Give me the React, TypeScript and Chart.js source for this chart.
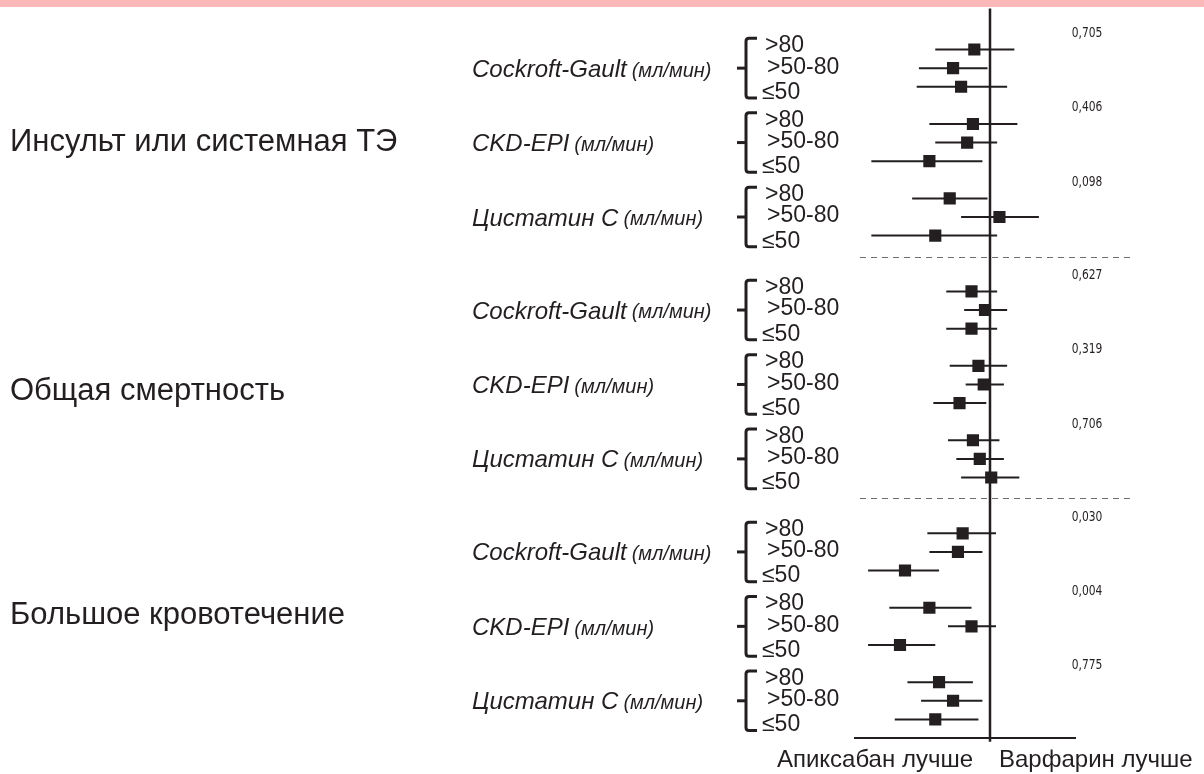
import React, { useEffect, useRef } from "react";
import { Chart, registerables } from "chart.js";

Chart.register(...registerables);

// ---- data ----
const outcomes = ["Инсульт или системная ТЭ", "Общая смертность", "Большое кровотечение"];
const methods = ["Cockroft-Gault", "CKD-EPI", "Цистатин С"];
const unitLabel = "(мл/мин)";
const subgroups = [">80", ">50-80", "≤50"];

// hazard ratios (apixaban vs warfarin), per method x subgroup
const strokeHR = [0.88, 0.74, 0.79, 0.87, 0.83, 0.61, 0.72, 1.08, 0.64];
const strokeLo = [0.64, 0.56, 0.55, 0.61, 0.64, 0.38, 0.53, 0.79, 0.38];
const strokeHi = [1.22, 0.98, 1.15, 1.25, 1.06, 0.94, 0.98, 1.49, 1.06];

const deathHR = [0.86, 0.96, 0.86, 0.91, 0.95, 0.78, 0.87, 0.92, 1.01];
const deathLo = [0.70, 0.81, 0.70, 0.72, 0.82, 0.63, 0.71, 0.76, 0.79];
const deathHi = [1.06, 1.15, 1.06, 1.15, 1.12, 0.97, 1.08, 1.12, 1.27];

const bleedHR = [0.80, 0.77, 0.50, 0.61, 0.86, 0.48, 0.66, 0.74, 0.64];
const bleedLo = [0.60, 0.61, 0.37, 0.44, 0.71, 0.37, 0.51, 0.57, 0.46];
const bleedHi = [1.05, 0.94, 0.66, 0.86, 1.05, 0.64, 0.87, 0.94, 0.91];

const pValues = ["0,705", "0,406", "0,098", "0,627", "0,319", "0,706", "0,030", "0,004", "0,775"];

const betterLeft = "Апиксабан лучше";
const betterRight = "Варфарин лучше";

// ---- layout (row units on the y axis) ----
const SECTION_STEP = 13;
const METHOD_STEP = 4;
const titleRows = [4.97, 18.35, 30.4];
const separatorRows = [11.15, 24.09];
const INK = "#231f20";
const SANS = '"Liberation Sans", Arial, Helvetica, sans-serif';

const hrAll = [strokeHR, deathHR, bleedHR];
const loAll = [strokeLo, deathLo, bleedLo];
const hiAll = [strokeHi, deathHi, bleedHi];

type Row = { y: number; hr: number; lo: number; hi: number };
const rows: Row[] = [];
outcomes.forEach((_, o) => {
  methods.forEach((__, m) => {
    subgroups.forEach((___, s) => {
      const k = m * 3 + s;
      rows.push({
        y: o * SECTION_STEP + m * METHOD_STEP + s,
        hr: hrAll[o][k],
        lo: loAll[o][k],
        hi: hiAll[o][k],
      });
    });
  });
});

const decorPlugin = {
  id: "decor",
  beforeDraw(chart: any) {
    const ctx = chart.ctx;
    ctx.save();
    ctx.fillStyle = "#fbb8b8";
    ctx.fillRect(0, 0, chart.width, 7);
    ctx.restore();
  },
  afterDraw(chart: any) {
    const ctx = chart.ctx;
    const xs = chart.scales.x;
    const ys = chart.scales.y;
    const Y = (v: number) => ys.getPixelForValue(v);
    const x1 = xs.getPixelForValue(1);

    ctx.save();
    // separators
    ctx.strokeStyle = "#6d6d6d";
    ctx.lineWidth = 1;
    ctx.setLineDash([6, 5]);
    separatorRows.forEach((r) => {
      const y = Math.round(Y(r)) + 0.5;
      ctx.beginPath();
      ctx.moveTo(860, y);
      ctx.lineTo(1133, y);
      ctx.stroke();
    });
    ctx.setLineDash([]);

    ctx.fillStyle = INK;
    ctx.strokeStyle = INK;
    ctx.textBaseline = "middle";

    outcomes.forEach((title, o) => {
      ctx.textAlign = "left";
      ctx.font = `31px ${SANS}`;
      ctx.fillText(title, 10, Y(titleRows[o]));

      methods.forEach((method, m) => {
        const start = o * SECTION_STEP + m * METHOD_STEP;
        // method label
        ctx.textAlign = "left";
        ctx.font = `italic 24px ${SANS}`;
        const my = Y(start + 1.1);
        ctx.fillText(method, 472, my);
        const w = ctx.measureText(method).width;
        ctx.font = `italic 20px ${SANS}`;
        ctx.fillText(unitLabel, 472 + w + 5, my + 1);

        // bracket
        const top = Y(start - 0.6);
        const bot = Y(start + 2.6);
        const mid = Y(start + 1);
        const bx = 746;
        ctx.lineWidth = 3;
        ctx.lineJoin = "round";
        ctx.beginPath();
        ctx.moveTo(757, top);
        ctx.lineTo(bx + 3, top);
        ctx.quadraticCurveTo(bx, top, bx, top + 3);
        ctx.lineTo(bx, bot - 3);
        ctx.quadraticCurveTo(bx, bot, bx + 3, bot);
        ctx.lineTo(757, bot);
        ctx.stroke();
        ctx.beginPath();
        ctx.moveTo(737, mid);
        ctx.lineTo(bx, mid);
        ctx.stroke();

        // subgroup labels
        ctx.font = `23px ${SANS}`;
        const sx = [765, 767, 762];
        const so = [-0.2, 0.95, 2.3];
        subgroups.forEach((sg, s) => {
          ctx.fillText(sg, sx[s], Y(start + so[s]));
        });

        // p-value (condensed)
        ctx.save();
        ctx.translate(1087, Y(start - 0.88));
        ctx.scale(0.85, 1);
        ctx.textAlign = "center";
        ctx.font = `14px "Liberation Sans Narrow", "DejaVu Sans Condensed", sans-serif`;
        ctx.fillText(pValues[o * 3 + m], 0, 0);
        ctx.restore();
      });
    });

    // bottom labels
    ctx.font = `24px ${SANS}`;
    ctx.textAlign = "right";
    ctx.fillText(betterLeft, x1 - 17, 760);
    ctx.textAlign = "left";
    ctx.fillText(betterRight, x1 + 9, 760);
    ctx.restore();
  },
};

export default function App() {
  const ref = useRef<HTMLCanvasElement | null>(null);

  useEffect(() => {
    if (!ref.current) return;
    const ciSets = rows.map((r) => ({
      type: "line" as const,
      data: [
        { x: r.lo, y: r.y },
        { x: r.hi, y: r.y },
      ],
      showLine: true,
      borderColor: INK,
      borderWidth: 2,
      pointRadius: 0,
      fill: false,
    }));
    const chart = new Chart(ref.current, {
      type: "scatter",
      data: {
        datasets: [
          {
            data: rows.map((r) => ({ x: r.hr, y: r.y })),
            pointStyle: "rect",
            pointRadius: 8.6,
            backgroundColor: INK,
            borderWidth: 0,
          } as any,
          {
            type: "line",
            data: [
              { x: 1, y: -2.2 },
              { x: 1, y: 37.2 },
            ],
            showLine: true,
            borderColor: INK,
            borderWidth: 2.5,
            pointRadius: 0,
            clip: false,
          } as any,
          ...ciSets,
        ],
      },
      options: {
        animation: false,
        responsive: false,
        events: [],
        layout: { padding: { left: 855.28, right: 129, top: 7, bottom: 36 } },
        plugins: { legend: { display: false }, tooltip: { enabled: false } },
        scales: {
          x: {
            type: "logarithmic",
            bounds: "data",
            min: 1 / 3,
            max: 2,
            ticks: { display: false },
            grid: { display: false, drawTicks: false },
            border: { display: true, color: INK, width: 2 },
          },
          y: {
            type: "linear",
            reverse: true,
            min: -2.2,
            max: 37,
            display: false,
          },
        },
      },
      plugins: [decorPlugin],
    });
    return () => chart.destroy();
  }, []);

  return (
    <div style={{ position: "absolute", left: 0, top: 0, width: 1204, height: 774, background: "#fff" }}>
      <canvas ref={ref} width={1204} height={774} style={{ display: "block" }} />
    </div>
  );
}
